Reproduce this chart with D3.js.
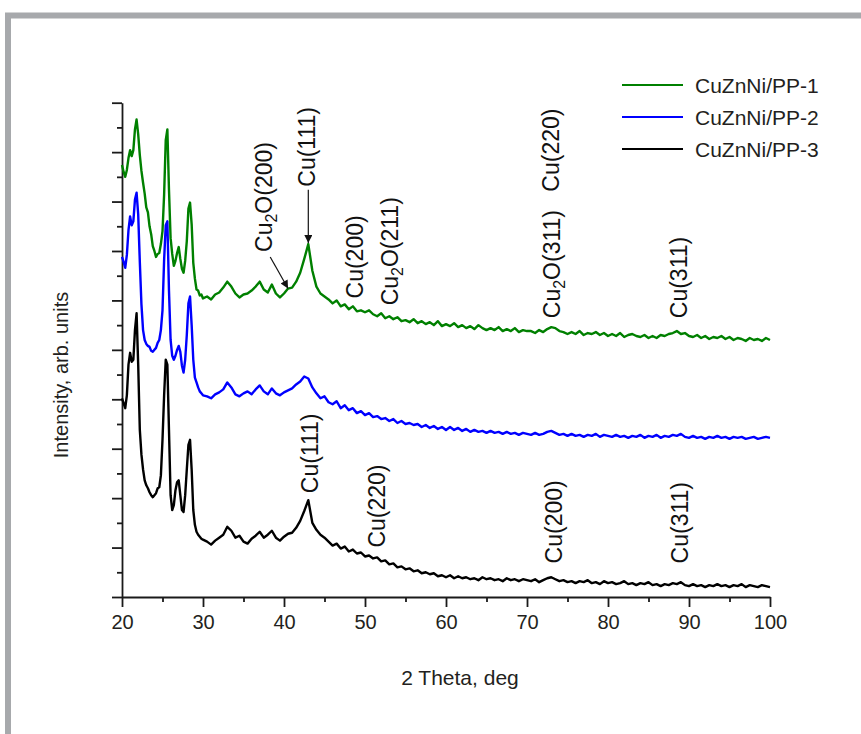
<!DOCTYPE html>
<html>
<head>
<meta charset="utf-8">
<script src="https://cdnjs.cloudflare.com/ajax/libs/d3/7.8.5/d3.min.js"></script>
<style>
  body { margin: 0; background: #fff; }
  svg { display: block; font-family: Arial, "Liberation Sans", sans-serif; }
  .axis path, .axis line { stroke: #1a1a1a; stroke-width: 1.8; }
  .axis text { font-size: 20px; fill: #231f20; font-family: Arial, "Liberation Sans", sans-serif; }
</style>
</head>
<body>
<svg id="svg1" width="861" height="734"></svg>
<script>
var seriesNames = ['CuZnNi/PP-1', 'CuZnNi/PP-2', 'CuZnNi/PP-3'];
var seriesColors = ['#008000', '#0000ff', '#000000'];

// 2 theta grid: 0.2 deg through the low angle peaks, 0.5 deg after that
var angles = d3.range(20, 30.01, 0.2).concat(d3.range(30.5, 100.01, 0.5))
               .map(function(d) { return +d.toFixed(1); });

// intensities, arb. units (curves already offset as in the figure)
var pp1 = [437,430,425,432,444,452,446,452,473,483,
           468,447,431,419,408,394,389,375,367,355,
           350,344,347,348,357,370,407,462,473,412,
           363,347,335,340,348,354,342,332,328,340,
           360,393,399,377,338,322,311,310,305,306,
           302,
           304,301,306,308,313,319,314,307,303,306,
           307,310,314,319,311,308,316,307,303,307,
           312,313,319,328,342,357,330,314,307,304,
           301,297,300,294,296,291,294,289,290,288,
           290,286,284,287,282,284,281,283,279,280,
           278,281,277,279,276,278,275,279,274,276,
           274,277,273,275,272,274,271,275,272,270,
           272,270,273,269,271,269,272,268,270,269,
           269,267,270,268,271,273,272,269,268,266,
           268,266,269,265,267,266,268,265,267,264,
           266,264,267,263,265,266,264,263,265,262,
           264,262,265,264,266,267,269,266,267,264,
           263,265,262,264,261,263,262,264,261,263,
           260,262,261,259,262,260,261,259,262,260];

var pp2 = [344,339,333,346,371,385,376,380,402,409,
           387,339,296,270,260,256,254,253,249,248,
           250,252,257,260,270,290,341,376,380,310,
           260,244,240,244,250,254,248,234,227,240,
           265,297,304,275,240,222,217,212,208,206,
           204,
           203,201,205,207,210,217,212,205,203,206,
           208,205,210,214,208,205,211,206,204,207,
           209,211,215,218,223,221,212,206,201,203,
           197,195,198,191,194,189,191,186,188,184,
           186,182,183,180,181,178,180,176,178,175,
           176,174,175,172,174,171,173,170,172,169,
           172,169,171,168,170,167,169,167,168,166,
           168,166,167,165,167,165,166,164,166,165,
           164,166,164,165,167,168,166,164,165,163,
           165,163,164,162,164,163,165,162,164,163,
           162,164,162,163,161,163,162,164,161,163,
           162,164,161,163,162,164,163,165,162,161,
           163,161,162,160,162,161,163,161,162,160,
           162,161,162,160,161,162,160,161,162,161];

var pp3 = [201,196,191,204,235,247,238,240,270,287,
           235,169,144,129,118,113,110,106,103,101,
           103,105,110,111,123,159,204,240,235,169,
           103,88,93,108,116,118,103,88,86,103,
           129,154,159,129,88,73,66,63,61,59,
           58,
           56,53,57,60,63,71,67,60,62,56,
           54,59,62,66,60,63,67,60,57,61,
           64,65,70,77,87,98,75,68,63,60,
           56,52,54,49,51,46,48,44,45,41,
           42,39,40,36,37,33,34,30,31,28,
           29,26,27,24,25,23,24,21,22,20,
           22,19,21,19,20,18,19,17,20,18,
           19,17,18,16,19,17,18,16,18,17,
           16,18,15,17,19,20,18,16,17,15,
           16,14,16,15,17,14,15,13,16,14,
           15,13,14,16,13,14,12,14,13,15,
           12,13,11,13,12,14,13,15,12,11,
           13,11,12,10,12,11,13,11,12,10,
           12,11,13,10,12,11,10,12,11,10];

var xTicks = [20, 30, 40, 50, 60, 70, 80, 90, 100];

// reflex labels: angle / intensity where the rotated text starts
var peakLabels = [
  {text: 'Cu(111)', angle: 43.8, level: 415},
  {text: 'Cu', sub: '2', rest: 'O(200)', angle: 38.5, level: 349},
  {text: 'Cu(200)', angle: 49.7, level: 302},
  {text: 'Cu', sub: '2', rest: 'O(211)', angle: 54.1, level: 295},
  {text: 'Cu(220)', angle: 73.9, level: 410},
  {text: 'Cu', sub: '2', rest: 'O(311)', angle: 74.1, level: 282},
  {text: 'Cu(311)', angle: 89.7, level: 282},
  {text: 'Cu(111)', angle: 44.2, level: 105},
  {text: 'Cu(220)', angle: 52.5, level: 50},
  {text: 'Cu(200)', angle: 74.3, level: 34},
  {text: 'Cu(311)', angle: 89.9, level: 34}
];

var arrows = [
  {x1: 43.0, y1: 412, x2: 43.0, y2: 358},
  {x1: 38.3, y1: 344, x2: 40.5, y2: 312}
];

var svg = d3.select('#svg1');

// slide frame
svg.append('path')
   .attr('d', 'M8,734V15.5H861')
   .attr('fill', 'none')
   .attr('stroke', '#a7a9ac')
   .attr('stroke-width', 6);

var x = d3.scaleLinear().domain([20, 100]).range([122, 770]);
var y = d3.scaleLinear().domain([0, 500]).range([597, 102.7]);

// axes, minor ticks first
svg.append('g')
   .attr('class', 'axis')
   .attr('transform', 'translate(0,597)')
   .call(d3.axisBottom(x).tickValues(d3.range(25, 100, 10)).tickSize(5).tickFormat(''))
   .select('.domain').remove();

svg.append('g')
   .attr('class', 'axis')
   .attr('transform', 'translate(0,597)')
   .call(d3.axisBottom(x).tickValues(xTicks).tickSize(10).tickSizeOuter(0).tickPadding(8));

svg.append('g')
   .attr('class', 'axis')
   .attr('transform', 'translate(122,0)')
   .call(d3.axisLeft(y).tickValues(d3.range(25, 500, 50)).tickSize(5).tickFormat(''))
   .select('.domain').remove();

svg.append('g')
   .attr('class', 'axis')
   .attr('transform', 'translate(122,0)')
   .call(d3.axisLeft(y).tickValues(d3.range(0, 501, 50)).tickSize(10).tickSizeOuter(0).tickFormat(''));

// curves
var line = d3.line()
             .x(function(d, i) { return x(angles[i]); })
             .y(function(d) { return y(d); });

var series = [pp1, pp2, pp3];

svg.append('g')
   .selectAll('path')
   .data(series.slice().reverse())
   .enter()
   .append('path')
   .attr('d', line)
   .attr('fill', 'none')
   .attr('stroke', function(d) { return seriesColors[series.indexOf(d)]; })
   .attr('stroke-width', 2.4)
   .attr('stroke-linejoin', 'round');

// arrows
svg.append('defs').append('marker')
   .attr('id', 'arrow')
   .attr('viewBox', '0 0 10 10')
   .attr('refX', 10)
   .attr('refY', 5)
   .attr('markerWidth', 13)
   .attr('markerHeight', 8)
   .attr('markerUnits', 'userSpaceOnUse')
   .attr('orient', 'auto')
   .append('path')
   .attr('d', 'M0,0L10,5L0,10z')
   .attr('fill', '#111');

svg.append('g')
   .selectAll('line')
   .data(arrows)
   .enter()
   .append('line')
   .attr('x1', function(d) { return x(d.x1); })
   .attr('y1', function(d) { return y(d.y1); })
   .attr('x2', function(d) { return x(d.x2); })
   .attr('y2', function(d) { return y(d.y2); })
   .attr('stroke', '#111')
   .attr('stroke-width', 1.2)
   .attr('marker-end', 'url(#arrow)');

// peak labels
var labels = svg.append('g')
                .selectAll('text')
                .data(peakLabels)
                .enter()
                .append('text')
                .attr('transform', function(d) {
                  return 'translate(' + x(d.angle) + ',' + y(d.level) + ') rotate(-90)';
                })
                .style('font-size', '23px')
                .attr('fill', '#111');

labels.each(function(d) {
  var t = d3.select(this);
  t.append('tspan').text(d.text);
  if (d.sub) {
    t.append('tspan').attr('dy', 5).style('font-size', '16px').text(d.sub);
    t.append('tspan').attr('dy', -5).text(d.rest);
  }
});

// axis titles
svg.append('text')
   .attr('x', 460)
   .attr('y', 685)
   .attr('text-anchor', 'middle')
   .style('font-size', '21px')
   .attr('fill', '#231f20')
   .text('2 Theta, deg');

svg.append('text')
   .attr('transform', 'translate(67.5,375) rotate(-90)')
   .attr('text-anchor', 'middle')
   .style('font-size', '20px')
   .attr('fill', '#231f20')
   .text('Intensity, arb. units');

// legend
var legend = svg.append('g')
                .selectAll('g')
                .data(seriesNames)
                .enter()
                .append('g')
                .attr('transform', function(d, i) { return 'translate(0,' + (85 + i * 32) + ')'; });

legend.append('line')
      .attr('x1', 622)
      .attr('x2', 683)
      .attr('stroke', function(d, i) { return seriesColors[i]; })
      .attr('stroke-width', 2.2);

legend.append('text')
      .attr('x', 695)
      .attr('y', 7.5)
      .style('font-size', '21px')
      .attr('fill', '#231f20')
      .text(function(d) { return d; });
</script>
</body>
</html>
